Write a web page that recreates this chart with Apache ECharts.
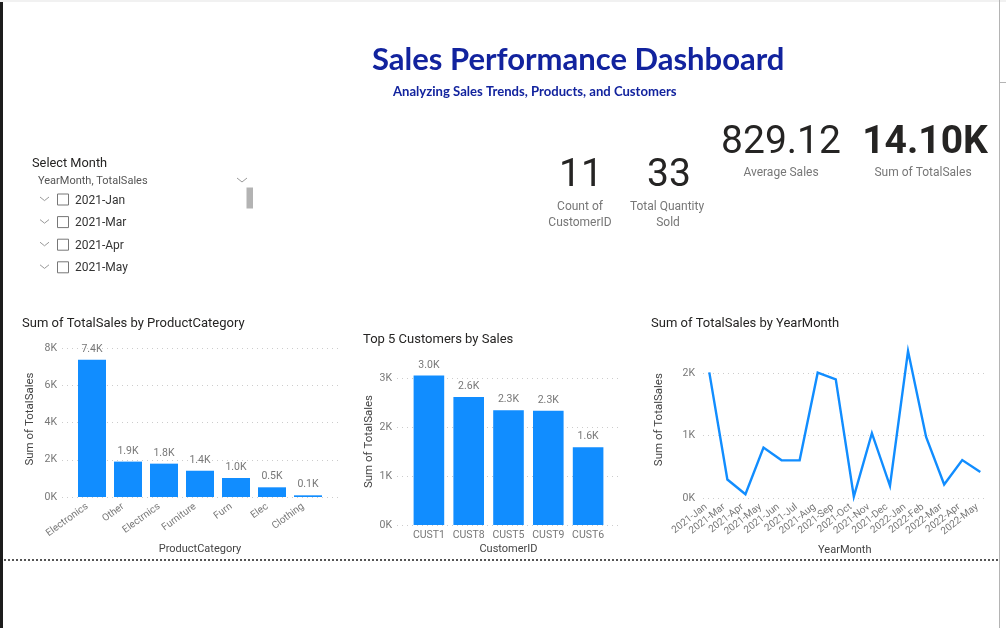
<!DOCTYPE html>
<html><head><meta charset="utf-8">
<style>html,body{margin:0;padding:0;background:#fff}#c{width:1006px;height:628px}</style>
<script src="https://cdn.jsdelivr.net/npm/echarts@6/dist/echarts.min.js"></script>
</head><body><div id="c"></div>
<script>
const categoryNames = ['Electronics','Other','Electrnics','Furniture','Furn','Elec','Clothing'];
const categorySales = [7370,1900,1790,1410,1020,520,90];
const customerNames = ['CUST1','CUST8','CUST5','CUST9','CUST6'];
const customerSales = [3050,2610,2340,2330,1585];
const monthNames = ['2021-Jan','2021-Mar','2021-Apr','2021-May','2021-Jun','2021-Jul','2021-Aug','2021-Sep','2021-Oct','2021-Nov','2021-Dec','2022-Jan','2022-Feb','2022-Mar','2022-Apr','2022-May'];
const monthSales = [2010,300,64,810,606,606,2005,1900,27,1040,200,2350,980,220,610,420];
const sliceMonths = ['2021-Jan','2021-Mar','2021-Apr','2021-May'];

const FONT = 'Roboto, "Noto Sans", sans-serif';
const HEAD = 'Lato, "Open Sans", sans-serif';
const BLUE = '#118DFF', GREY = '#777777', DARK = '#252423', NAVY = '#12239E';
const kFmt = v => (v/1000).toFixed(0)+'K';
const barLabel = p => (p.value/1000).toFixed(1)+'K';

const grids = [], xAxes = [], yAxes = [], series = [];
// each chart: a wide back grid that carries the value axis and dotted lines, and a front grid with the marks
function addChart(o){
  const back = grids.length;
  grids.push({left:o.lineL, width:o.lineR-o.lineL, top:o.top, height:o.bottom-o.top});
  xAxes.push({gridIndex:back, type:'value', min:0, max:1, show:false});
  yAxes.push({gridIndex:back, type:'value', min:0, max:o.max, interval:o.interval,
    axisLine:{show:false}, axisTick:{show:false},
    axisLabel:{show:true, formatter:kFmt, color:GREY, fontFamily:FONT, fontSize:10.5, margin:o.yMargin},
    splitLine:{show:true, lineStyle:{type:[1,4], color:'#cccccc', width:1}},
    name:'Sum of TotalSales', nameLocation:'middle', nameGap:o.nameGap, nameRotate:90,
    nameTextStyle:{color:'#444444', fontFamily:FONT, fontSize:11.5, padding:[0,0,0,o.namePad]}});
  series.push({type:'line', xAxisIndex:back, yAxisIndex:back, data:[], silent:true});
  const front = grids.length;
  grids.push({left:o.left, width:o.right-o.left, top:o.top, height:o.bottom-o.top});
  xAxes.push({gridIndex:front, type:'category', data:o.names, boundaryGap:o.kind==='bar',
    axisLine:{show:false}, axisTick:{show:false},
    axisLabel:{interval:0, rotate:o.rotate, color:GREY, fontFamily:FONT, fontSize:o.tickSize, margin:o.tickMargin, padding:o.tickPad},
    name:o.xName, nameLocation:'middle', nameGap:o.xNameGap,
    nameTextStyle:{color:'#444444', fontFamily:FONT, fontSize:11}});
  yAxes.push({gridIndex:front, type:'value', min:0, max:o.max, show:false, splitLine:{show:false}});
  if(o.kind==='bar'){
    series.push({type:'bar', clip:false, xAxisIndex:front, yAxisIndex:front, data:o.values, barWidth:o.barWidth,
      itemStyle:{color:BLUE},
      label:{show:true, position:'top', distance:5, formatter:barLabel, color:GREY, fontFamily:FONT, fontSize:10.5}});
  } else {
    series.push({type:'line', clip:false, xAxisIndex:front, yAxisIndex:front, data:o.values, symbol:'none', smooth:false,
      lineStyle:{color:BLUE, width:2.4, cap:'butt', join:'miter'}});
  }
}
addChart({kind:'bar', names:categoryNames, values:categorySales, lineL:62, lineR:338, left:74, right:326, top:348, bottom:497,
  max:8000, interval:2000, nameGap:26, namePad:7, yMargin:5, rotate:36, tickSize:10, tickMargin:5, tickPad:[0,6,0,0], xName:'ProductCategory', xNameGap:47, barWidth:28});
addChart({kind:'bar', names:customerNames, values:customerSales, lineL:397, lineR:620, left:409, right:608, top:378, bottom:525,
  max:3000, interval:1000, nameGap:20, namePad:20, yMargin:5, rotate:0, tickSize:10.5, tickMargin:5, tickPad:0, xName:'CustomerID', xNameGap:19, barWidth:30.6});
addChart({kind:'line', names:monthNames, values:monthSales, lineL:703, lineR:987, left:709.3, right:980.3, top:373, bottom:498.3,
  max:2000, interval:1000, nameGap:38, namePad:32, yMargin:8, rotate:38, tickSize:10, tickMargin:5, tickPad:[0,4,0,0], xName:'YearMonth', xNameGap:46});

function txt(text,x,y,size,color,opt){
  return {type:'text', silent:true, style:Object.assign({text, x, y, fontSize:size, fill:color, fontFamily:FONT,
    textAlign:'left', textVerticalAlign:'middle'}, opt||{})};
}
const chev = (x,y,w) => ({type:'polyline', silent:true, shape:{points:[[x,y],[x+w/2,y+w*0.4],[x+w,y]]}, style:{stroke:'#999999', fill:null, lineWidth:1}});
const g = [
  // page edges
  {type:'rect', silent:true, shape:{x:0,y:0,width:3,height:628}, style:{fill:'#1c1c1c'}},
  {type:'rect', silent:true, shape:{x:0,y:0,width:1006,height:2}, style:{fill:'#f1f1f1'}},
  {type:'line', silent:true, shape:{x1:999.5,y1:0,x2:999.5,y2:628}, style:{stroke:'#b4b4b4', lineWidth:1}},
  {type:'line', silent:true, shape:{x1:1000,y1:82.5,x2:1006,y2:82.5}, style:{stroke:'#b4b4b4', lineWidth:1}},
  {type:'line', silent:true, shape:{x1:4,y1:560,x2:999,y2:560}, style:{stroke:'#555555', lineWidth:2, lineDash:[2,2]}},
  // header
  txt('Sales Performance Dashboard',372,60,31,NAVY,{fontFamily:HEAD, fontWeight:700}),
  txt('Analyzing Sales Trends, Products, and Customers',393,91.5,13.1,NAVY,{fontFamily:HEAD, fontWeight:700}),
  // chart titles
  txt('Sum of TotalSales by ProductCategory',22,324,13,DARK),
  txt('Top 5 Customers by Sales',363,339.5,13,DARK),
  txt('Sum of TotalSales by YearMonth',651,324,13,DARK),
  // KPI cards
  txt('11',581,176,39,DARK,{textAlign:'center'}),
  txt('Count of',580,207,12,GREY,{textAlign:'center'}),
  txt('CustomerID',580,223,12,GREY,{textAlign:'center'}),
  txt('33',669,176,39,DARK,{textAlign:'center'}),
  txt('Total Quantity',667,207,12,GREY,{textAlign:'center'}),
  txt('Sold',668,223,12,GREY,{textAlign:'center'}),
  txt('829.12',781,143,39,DARK,{textAlign:'center'}),
  txt('Average Sales',781,173,12,GREY,{textAlign:'center'}),
  txt('14.10K',925,143,39,DARK,{textAlign:'center', fontWeight:700}),
  txt('Sum of TotalSales',923,173,12,GREY,{textAlign:'center'}),
  // slicer
  txt('Select Month',32,163.5,12.8,DARK),
  txt('YearMonth, TotalSales',38,181.5,11,'#555555'),
  chev(237,178,10),
  {type:'rect', silent:true, shape:{x:246.5,y:187.5,width:6.5,height:21}, style:{fill:'#b3b3b3'}}
];
sliceMonths.forEach((m,i)=>{
  const y = 199.5 + i*22.6;
  g.push(chev(40,y-2.5,9));
  g.push({type:'rect', silent:true, shape:{x:57.5,y:y-5.5,width:11,height:11}, style:{fill:'#fff', stroke:'#777777', lineWidth:1}});
  g.push(txt(m,75,y+1,12,'#333333'));
});

echarts.init(document.getElementById('c'),null,{renderer:'canvas'}).setOption({
  animation:false, backgroundColor:'#ffffff',
  grid:grids, xAxis:xAxes, yAxis:yAxes, series, graphic:{elements:g}
});
</script></body></html>
